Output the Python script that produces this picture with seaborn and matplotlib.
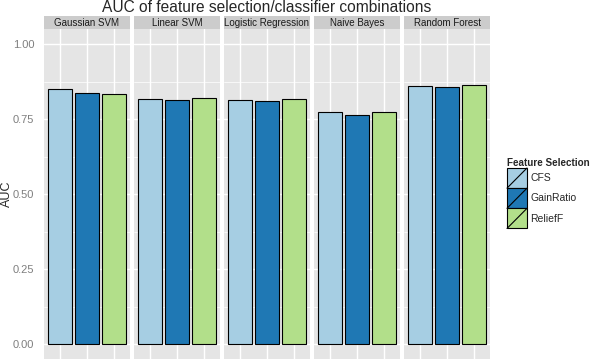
#!/usr/bin/env python3

import pandas as pd
import seaborn as sns
import matplotlib
matplotlib.use("Agg")
import matplotlib.pyplot as plt
from matplotlib.patches import Rectangle, Patch
from matplotlib.lines import Line2D
from matplotlib.legend_handler import HandlerPatch

# data
classifiers = ["Gaussian SVM", "Linear SVM", "Logistic Regression",
               "Naive Bayes", "Random Forest"]
selections = ["CFS", "GainRatio", "ReliefF"]
auc_cfs = [0.851, 0.817, 0.813, 0.772, 0.861]
auc_gainratio = [0.838, 0.815, 0.810, 0.762, 0.857]
auc_relieff = [0.835, 0.819, 0.817, 0.772, 0.862]
y_ticks = [0.0, 0.25, 0.5, 0.75, 1.0]
y_ticklabels = ["0.00", "0.25", "0.50", "0.75", "1.00"]

colors = ["#A6CEE3", "#1F78B4", "#B2DF8A"]
panel_bg = "#E5E5E5"
strip_bg = "#CCCCCC"


class DiagHandler(HandlerPatch):
    # ggplot-like legend key: filled box with a diagonal slash
    def create_artists(self, legend, orig_handle, xdescent, ydescent,
                       width, height, fontsize, trans):
        x0, y0 = -xdescent, -ydescent
        rect = Rectangle((x0, y0), width, height,
                         facecolor=orig_handle.get_facecolor(),
                         edgecolor="black", lw=0.8, transform=trans)
        line = Line2D([x0, x0 + width], [y0, y0 + height],
                      color="black", lw=0.8, transform=trans)
        return [rect, line]


def build_frame():
    rows = []
    for i, clf in enumerate(classifiers):
        for fs, vals in zip(selections, [auc_cfs, auc_gainratio, auc_relieff]):
            rows.append({"Classifier": clf, "Feature Selection": fs,
                         "AUC": vals[i]})
    return pd.DataFrame(rows)


def main():
    sns.set_style("white")
    plt.rcParams["font.family"] = ["Liberation Sans", "DejaVu Sans"]

    df = build_frame()
    W, H = 600, 359
    fig = plt.figure(figsize=(W / 100, H / 100), dpi=100)

    pw, gap, left0 = 86, 4, 44
    top_px, strip_px = 29, 13

    for i, clf in enumerate(classifiers):
        ax = fig.add_axes([(left0 + i * (pw + gap)) / W, 0,
                           pw / W, (H - top_px) / H])
        ax.set_facecolor(panel_bg)
        for y in [0.125, 0.375, 0.625, 0.875]:
            ax.axhline(y, color="white", lw=0.5, zorder=0)
        for y in y_ticks:
            ax.axhline(y, color="white", lw=1.0, zorder=0)
        for x in range(len(selections)):
            ax.axvline(x, color="white", lw=1.0, zorder=0)

        sub = df[df.Classifier == clf]
        sns.barplot(data=sub, x="Feature Selection", y="AUC",
                    hue="Feature Selection", order=selections,
                    hue_order=selections, palette=colors, saturation=1,
                    width=0.9, edgecolor="black", linewidth=0.8,
                    legend=False, ax=ax, zorder=2)

        ax.set_xlim(-0.6, 2.6)
        ax.set_ylim(-0.05, 1.05)
        ax.set_xlabel("")
        ax.set_ylabel("")
        ax.set_xticks([])
        for s in ax.spines.values():
            s.set_visible(False)
        if i == 0:
            ax.set_yticks(y_ticks)
            ax.set_yticklabels(y_ticklabels, fontsize=8, color="#7F7F7F")
            ax.tick_params(axis="y", length=0, pad=7)
        else:
            ax.set_yticks([])

        # facet strip
        sh = strip_px / (H - top_px)
        ax.add_patch(Rectangle((0, 1), 1, sh, transform=ax.transAxes,
                               facecolor=strip_bg, edgecolor="none",
                               clip_on=False))
        ax.text(0.5, 1 + sh / 2, clf, transform=ax.transAxes,
                ha="center", va="center", fontsize=7, color="#1A1A1A")

    fig.text((left0 + (5 * pw + 4 * gap) / 2) / W, 1 - 12.5 / H,
             "AUC of feature selection/classifier combinations",
             ha="center", va="baseline", fontsize=11.2)
    fig.text(7 / W, 1 - 194 / H, "AUC", rotation=90,
             ha="center", va="center", fontsize=9)

    handles = [Patch(facecolor=c, edgecolor="black") for c in colors]
    leg = fig.legend(handles, selections, title="Feature Selection",
                     loc="upper left", bbox_to_anchor=(507 / W, 1 - 158 / H),
                     frameon=False, fontsize=7.5, borderpad=0,
                     borderaxespad=0, handlelength=1.92, handleheight=2.6,
                     labelspacing=0, handletextpad=0.3,
                     alignment="left",
                     handler_map={Patch: DiagHandler()})
    leg.get_title().set_fontweight("bold")
    leg.get_title().set_fontsize(7.1)

    fig.savefig("out.png", dpi=100)
    plt.close(fig)


if __name__ == '__main__':
    main()
